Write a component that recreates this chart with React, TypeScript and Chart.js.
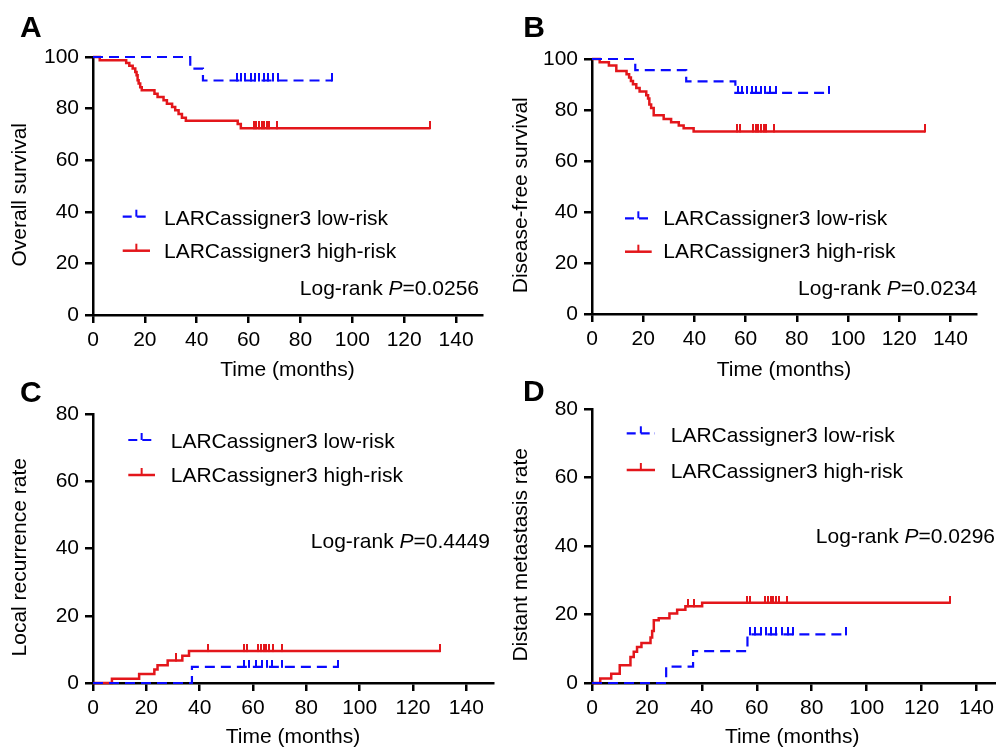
import React, { useEffect, useRef } from 'react';
import { Chart, registerables } from 'chart.js';

Chart.register(...registerables);

const FONT = '"Liberation Sans", Arial, Helvetica, sans-serif';
const BLUE = '#0a0aff';
const RED = '#e3161b';

// ---------- axis ticks ----------
const monthTicks = [0, 20, 40, 60, 80, 100, 120, 140];
const survivalTicks = [0, 20, 40, 60, 80, 100];
const rateTicks = [0, 20, 40, 60, 80];

// ---------- labels ----------
const seriesLabels = ['LARCassigner3 low-risk', 'LARCassigner3 high-risk'];
const panelLetters = ['A', 'B', 'C', 'D'];
const yTitles = ['Overall survival', 'Disease-free survival', 'Local recurrence rate', 'Distant metastasis rate'];
const xTitle = 'Time (months)';
const pValues = ['0.0256', '0.0234', '0.4449', '0.0296'];

// ---------- A: overall survival ----------
const osLowTimes = [0, 37.5, 42.4];
const osLowValues = [100, 95.5, 90.9];
const osLowCensor = [55.5, 57, 58.5, 61, 62.5, 64, 66, 67.5, 69.5, 71.5, 92.2];
const osHighTimes = [0, 2.6, 12.8, 14.0, 15.3, 16.3, 16.8, 17.2, 17.6, 18.2, 18.8, 23.7, 24.9, 27.2, 28.5, 30.5, 31.7, 33.0, 34.3, 35.8, 55.8, 57.0];
const osHighValues = [100, 98.7, 97.7, 96.6, 95.5, 94.2, 92.9, 91.0, 89.7, 88.3, 87.1, 85.8, 84.5, 83.2, 81.9, 80.6, 79.4, 77.9, 76.5, 75.3, 74.0, 72.4];
const osHighCensor = [62, 63, 64, 65, 66, 67, 68, 71, 129.8];

// ---------- B: disease-free survival ----------
const dfsLowTimes = [0, 16.9, 36.8, 56.0];
const dfsLowValues = [100, 95.6, 91.2, 86.7];
const dfsLowCensor = [57, 58.5, 60.5, 62.5, 64, 66, 67.5, 69.5, 72, 92.4];
const dfsHighTimes = [0, 3.0, 6.6, 9.5, 13.5, 14.5, 15.2, 16.0, 17.3, 18.6, 21.2, 21.9, 22.4, 23.1, 24.1, 28.0, 30.9, 33.9, 35.8, 39.7];
const dfsHighValues = [100, 98.7, 97.5, 95.3, 94.0, 92.7, 91.4, 90.1, 88.6, 87.3, 85.8, 84.5, 82.2, 80.8, 77.9, 76.5, 75.2, 73.9, 72.8, 71.6];
const dfsHighCensor = [56.5, 58, 63, 64, 65, 66, 67, 68, 71, 130.2];

// ---------- C: local recurrence ----------
const lrLowTimes = [0, 37.1];
const lrLowValues = [0, 4.8];
const lrLowCensor = [56.6, 58.5, 61, 63.4, 65.3, 67.2, 70.9, 92.0];
const lrHighTimes = [0, 7.1, 17.3, 23.0, 24.2, 28.0, 33.5, 36.0];
const lrHighValues = [0, 1.3, 2.7, 4.0, 5.3, 6.7, 8.1, 9.5];
const lrHighCensor = [31, 43.3, 56.6, 57.8, 62, 63, 64, 65, 66, 67.5, 70.9, 130.3];

// ---------- D: distant metastasis ----------
const dmLowTimes = [0, 27.0, 36.8, 56.6];
const dmLowValues = [0, 4.8, 9.3, 14.2];
const dmLowCensor = [57.5, 59.5, 61.5, 63.5, 65, 67, 69, 71.5, 73, 92.3];
const dmHighTimes = [0, 3.0, 7.0, 10.1, 14.0, 15.2, 16.4, 18.0, 21.3, 21.9, 22.5, 24.3, 28.2, 31.0, 34.0, 40.1];
const dmHighValues = [0, 1.3, 2.7, 5.2, 7.6, 9.1, 10.5, 11.7, 13.3, 15.2, 18.3, 18.9, 20.3, 21.4, 22.4, 23.4];
const dmHighCensor = [35, 37, 56.5, 57.5, 63, 64, 65, 66, 67, 68, 71, 130.3];

type Curve = { times: number[]; values: number[]; censor: number[] };

type PanelSpec = {
  idx: number;
  low: Curve;
  high: Curve;
  yTicks: number[];
  yMax: number;
  canvas: { left: number; top: number; width: number; height: number };
  area: { L: number; T: number; R: number; B: number };
  padBottom: number;
  yTitlePad: number;
  xTitleSuffix: string;
  letterPos: [number, number];
  legend: { x1: number; x2: number; y1: number; y2: number; textX: number; base1: number; base2: number };
  pRight: number;
  pBase: number;
};

const panels: PanelSpec[] = [
  {
    idx: 0,
    low: { times: osLowTimes, values: osLowValues, censor: osLowCensor },
    high: { times: osHighTimes, values: osHighValues, censor: osHighCensor },
    yTicks: survivalTicks, yMax: 100,
    canvas: { left: 0, top: 0, width: 498, height: 390 },
    area: { L: 93, T: 57, R: 482, B: 315 },
    padBottom: 7, yTitlePad: 7.4, xTitleSuffix: '',
    letterPos: [20, 36.7],
    legend: { x1: 122.7, x2: 150, y1: 216.7, y2: 250.7, textX: 164, base1: 225, base2: 258.3 },
    pRight: 479, pBase: 295,
  },
  {
    idx: 1,
    low: { times: dfsLowTimes, values: dfsLowValues, censor: dfsLowCensor },
    high: { times: dfsHighTimes, values: dfsHighValues, censor: dfsHighCensor },
    yTicks: survivalTicks, yMax: 100,
    canvas: { left: 498, top: 0, width: 498, height: 390 },
    area: { L: 592, T: 59, R: 976, B: 314 },
    padBottom: 7, yTitlePad: 11.1, xTitleSuffix: '',
    letterPos: [523.3, 36.7],
    legend: { x1: 625, x2: 651.7, y1: 218.3, y2: 251.7, textX: 663.3, base1: 225, base2: 258.3 },
    pRight: 977.3, pBase: 295,
  },
  {
    idx: 2,
    low: { times: lrLowTimes, values: lrLowValues, censor: lrLowCensor },
    high: { times: lrHighTimes, values: lrHighValues, censor: lrHighCensor },
    yTicks: rateTicks, yMax: 80,
    canvas: { left: 0, top: 375, width: 498, height: 375 },
    area: { L: 93, T: 414, R: 495, B: 683 },
    padBottom: 0, yTitlePad: 7.4, xTitleSuffix: '',
    letterPos: [20, 401.7],
    legend: { x1: 128.3, x2: 155, y1: 440, y2: 475, textX: 170.7, base1: 448.3, base2: 481.7 },
    pRight: 490, pBase: 547.7,
  },
  {
    idx: 3,
    low: { times: dmLowTimes, values: dmLowValues, censor: dmLowCensor },
    high: { times: dmHighTimes, values: dmHighValues, censor: dmHighCensor },
    yTicks: rateTicks, yMax: 80,
    canvas: { left: 498, top: 375, width: 520, height: 375 },
    area: { L: 592, T: 409, R: 1004, B: 683 },
    padBottom: 0, yTitlePad: 11.1, xTitleSuffix: '  ',
    letterPos: [523, 400.5],
    legend: { x1: 626.7, x2: 655, y1: 433.3, y2: 470, textX: 670.7, base1: 441.7, base2: 478 },
    pRight: 995, pBase: 542.7,
  },
];

function stepValue(times: number[], values: number[], t: number) {
  let v = values[0];
  for (let i = 0; i < times.length; i++) if (times[i] <= t) v = values[i];
  return v;
}

function curveLine(c: Curve) {
  const pts = c.times.map((t, i) => ({ x: t, y: c.values[i] }));
  const end = Math.max(...c.censor);
  pts.push({ x: end, y: c.values[c.values.length - 1] });
  return pts;
}

function censorMarks(c: Curve) {
  return c.censor.map((t) => ({ x: t, y: stepValue(c.times, c.values, t) }));
}

function tickImage(color: string) {
  const cv = document.createElement('canvas');
  cv.width = 2;
  cv.height = 14;
  const g = cv.getContext('2d')!;
  g.fillStyle = color;
  g.fillRect(0, 0, 2, 8);
  return cv;
}

function makeDecor(p: PanelSpec) {
  return {
    id: 'decor' + p.idx,
    afterDraw(chart: any) {
      const ctx: CanvasRenderingContext2D = chart.ctx;
      const ox = p.canvas.left;
      const oy = p.canvas.top;
      ctx.save();
      ctx.textAlign = 'left';
      ctx.textBaseline = 'alphabetic';
      ctx.fillStyle = '#000';
      ctx.font = `bold 30px ${FONT}`;
      ctx.fillText(panelLetters[p.idx], p.letterPos[0] - ox, p.letterPos[1] - oy);

      const rows = [
        { color: BLUE, dash: [9, 5], width: 2.2, y: p.legend.y1, base: p.legend.base1, label: seriesLabels[0] },
        { color: RED, dash: [] as number[], width: 2.5, y: p.legend.y2, base: p.legend.base2, label: seriesLabels[1] },
      ];
      for (const r of rows) {
        ctx.strokeStyle = r.color;
        ctx.lineWidth = r.width;
        ctx.setLineDash(r.dash);
        ctx.beginPath();
        ctx.moveTo(p.legend.x1 - ox, r.y - oy);
        ctx.lineTo(p.legend.x2 - ox, r.y - oy);
        ctx.stroke();
        ctx.setLineDash([]);
        ctx.lineWidth = 2;
        const xc = (p.legend.x1 + p.legend.x2) / 2 - ox;
        ctx.beginPath();
        ctx.moveTo(xc, r.y - oy);
        ctx.lineTo(xc, r.y - oy - 7);
        ctx.stroke();
        ctx.fillStyle = '#000';
        ctx.font = `21px ${FONT}`;
        ctx.fillText(r.label, p.legend.textX - ox, r.base - oy);
      }

      const s1 = 'Log-rank ';
      const s2 = 'P';
      const s3 = '=' + pValues[p.idx];
      ctx.font = `21px ${FONT}`;
      const w1 = ctx.measureText(s1).width;
      const w3 = ctx.measureText(s3).width;
      ctx.font = `italic 21px ${FONT}`;
      const w2 = ctx.measureText(s2).width;
      let x = p.pRight - ox - (w1 + w2 + w3);
      const y = p.pBase - oy;
      ctx.font = `21px ${FONT}`;
      ctx.fillText(s1, x, y);
      x += w1;
      ctx.font = `italic 21px ${FONT}`;
      ctx.fillText(s2, x, y);
      x += w2;
      ctx.font = `21px ${FONT}`;
      ctx.fillText(s3, x, y);
      ctx.restore();
    },
  };
}

function buildConfig(p: PanelSpec): any {
  const { canvas, area } = p;
  const yWidth = area.L - canvas.left;
  const xHeight = canvas.top + canvas.height - p.padBottom - area.B;
  const axisCommon = {
    grid: { display: true, drawOnChartArea: false, drawTicks: true, tickLength: 8, color: '#000', lineWidth: 2.5 },
    border: { display: true, color: '#000', width: 2.5 },
  };
  return {
    type: 'line',
    data: {
      datasets: [
        {
          label: seriesLabels[0],
          data: curveLine(p.low),
          borderColor: BLUE,
          borderWidth: 2.2,
          borderDash: [10, 6],
          stepped: 'before',
          pointRadius: 0,
          fill: false,
          clip: false,
        },
        {
          label: seriesLabels[0] + ' censored',
          data: censorMarks(p.low),
          showLine: false,
          pointStyle: tickImage(BLUE),
          pointRadius: 4,
          clip: false,
        },
        {
          label: seriesLabels[1],
          data: curveLine(p.high),
          borderColor: RED,
          borderWidth: 2.5,
          stepped: 'before',
          pointRadius: 0,
          fill: false,
          clip: false,
        },
        {
          label: seriesLabels[1] + ' censored',
          data: censorMarks(p.high),
          showLine: false,
          pointStyle: tickImage(RED),
          pointRadius: 4,
          clip: false,
        },
      ],
    },
    options: {
      responsive: false,
      animation: false,
      events: [],
      layout: {
        padding: {
          left: 0,
          top: area.T - canvas.top,
          right: canvas.left + canvas.width - area.R,
          bottom: p.padBottom,
        },
      },
      plugins: { legend: { display: false }, tooltip: { enabled: false } },
      scales: {
        x: {
          type: 'linear',
          min: 0,
          max: 150,
          ...axisCommon,
          afterBuildTicks: (s: any) => {
            s.ticks = monthTicks.map((v) => ({ value: v }));
          },
          afterFit: (s: any) => {
            s.height = xHeight;
          },
          ticks: { color: '#000', font: { family: FONT, size: 21 }, padding: 5, autoSkip: false, maxRotation: 0 },
          title: {
            display: true,
            text: xTitle + p.xTitleSuffix,
            color: '#000',
            font: { family: FONT, size: 21 },
            padding: { top: 0, bottom: 0 },
          },
        },
        y: {
          type: 'linear',
          min: 0,
          max: p.yMax,
          ...axisCommon,
          afterBuildTicks: (s: any) => {
            s.ticks = p.yTicks.map((v) => ({ value: v }));
          },
          afterFit: (s: any) => {
            s.width = yWidth;
          },
          ticks: { color: '#000', font: { family: FONT, size: 21 }, padding: 6, autoSkip: false },
          title: {
            display: true,
            text: yTitles[p.idx] + '   ',
            color: '#000',
            font: { family: FONT, size: 21 },
            padding: { top: p.yTitlePad, bottom: 0 },
          },
        },
      },
    },
    plugins: [makeDecor(p)],
  };
}

function Panel({ spec }: { spec: PanelSpec }) {
  const ref = useRef<HTMLCanvasElement>(null);
  useEffect(() => {
    if (!ref.current) return;
    const chart = new Chart(ref.current, buildConfig(spec));
    return () => chart.destroy();
  }, [spec]);
  const { left, top, width, height } = spec.canvas;
  return (
    <canvas
      ref={ref}
      width={width}
      height={height}
      style={{ position: 'absolute', left, top, width, height }}
    />
  );
}

export default function App() {
  return (
    <div
      style={{
        position: 'fixed',
        left: 0,
        top: 0,
        width: 996,
        height: 750,
        overflow: 'hidden',
        background: '#fff',
      }}
    >
      {panels.map((p) => (
        <Panel key={p.idx} spec={p} />
      ))}
    </div>
  );
}
